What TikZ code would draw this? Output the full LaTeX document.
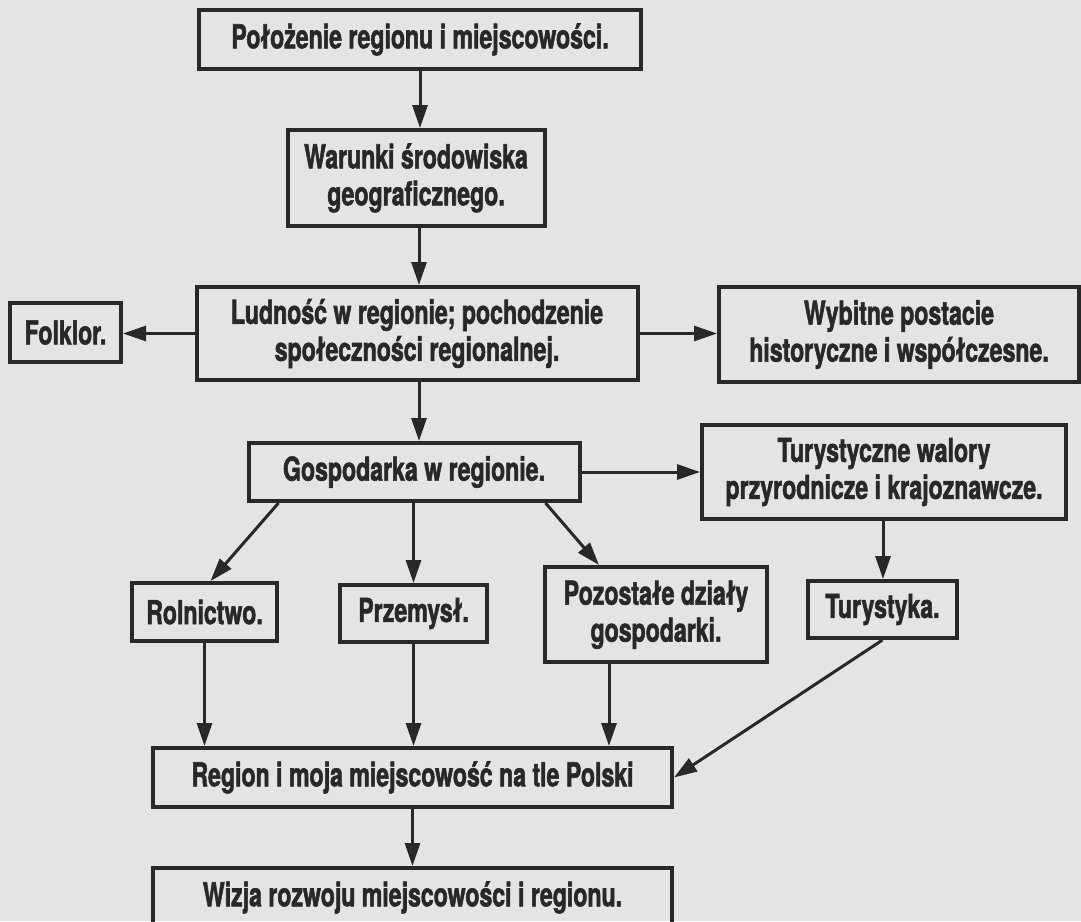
\documentclass[tikz,border=0pt]{standalone}
\usepackage{fontspec}
\newfontfamily\boxfont{texgyreheros-bold.otf}[FakeStretch=0.7, FakeBold=1.6]
\usetikzlibrary{arrows.meta}
\definecolor{bg}{HTML}{E4E5E3}
\definecolor{ink}{HTML}{282828}
\tikzset{
  box/.style={draw=ink, line width=4pt, text=ink, font=\boxfont\fontsize{33}{37}\selectfont, align=center, inner sep=0pt},
  arr/.style={draw=ink, line width=3pt, -{Triangle[length=23pt,width=15pt]}}
}
\begin{document}
\begin{tikzpicture}[x=1pt,y=-1pt]
\useasboundingbox (0,0) rectangle (1081,921);
\clip (0,0) rectangle (1081,921);
\fill[bg] (0,0) rectangle (1081,921);

\node[box, minimum width=442pt, minimum height=59pt] (pol) at (420,39.5) {Położenie regionu i miejscowości.};
\node[box, minimum width=257pt, minimum height=96pt] (war) at (416,178) {Warunki środowiska\\geograficznego.};
\node[box, minimum width=441pt, minimum height=93pt] (lud) at (417,333.5) {Ludność w regionie; pochodzenie\\społeczności regionalnej.};
\node[box, minimum width=111pt, minimum height=59pt] (fol) at (65.5,332.5) {Folklor.};
\node[box, minimum width=360pt, minimum height=95pt] (wyb) at (899,334.5) {Wybitne postacie\\historyczne i współczesne.};
\node[box, minimum width=331pt, minimum height=58pt] (gos) at (414,472) {Gospodarka w regionie.};
\node[box, minimum width=364pt, minimum height=94pt] (tur) at (884,472) {Turystyczne walory\\przyrodnicze i krajoznawcze.};
\node[box, minimum width=145pt, minimum height=58pt] (rol) at (204.5,612) {Rolnictwo.};
\node[box, minimum width=147pt, minimum height=57pt] (prz) at (413.5,613.5) {Przemysł.};
\node[box, minimum width=222pt, minimum height=95pt] (poz) at (656,614.5) {Pozostałe działy\\gospodarki.};
\node[box, minimum width=149pt, minimum height=57pt] (tka) at (882.5,609.5) {Turystyka.};
\node[box, minimum width=519pt, minimum height=59pt] (reg) at (412.5,777.5) {Region i moja miejscowość na tle Polski};
\node[box, minimum width=519pt, minimum height=59pt] (wiz) at (412.5,897.5) {Wizja rozwoju miejscowości i regionu.};

\draw[arr] (pol.south) -- (pol.south |- war.north);
\draw[arr] ([xshift=3pt]war.south) -- ([xshift=3pt]war.south |- lud.north);
\draw[arr] (lud.west) -- (lud.west -| fol.east);
\draw[arr] (lud.east) -- (lud.east -| wyb.west);
\draw[arr] ([xshift=2pt]lud.south) -- ([xshift=2pt]lud.south |- gos.north);
\draw[arr] (gos.east) -- (gos.east -| tur.west);
\draw[arr] ([xshift=-1pt]tur.south) -- ([xshift=-1pt]tur.south |- tka.north);
\draw[arr] ([xshift=32pt]gos.south west) -- ([xshift=6pt]rol.north);
\draw[arr] (gos.south -| prz.north) -- (prz.north);
\draw[arr] ([xshift=-36pt]gos.south east) -- ([xshift=56pt]poz.north west);
\draw[arr] (rol.south) -- (rol.south |- reg.north);
\draw[arr] (prz.south) -- (prz.south |- reg.north);
\draw[arr] ([xshift=-47pt]poz.south) -- ([xshift=-47pt]poz.south |- reg.north);
\draw[arr] (tka.south) -- (reg.east);
\draw[arr] (reg.south) -- (wiz.north);
\end{tikzpicture}
\end{document}
